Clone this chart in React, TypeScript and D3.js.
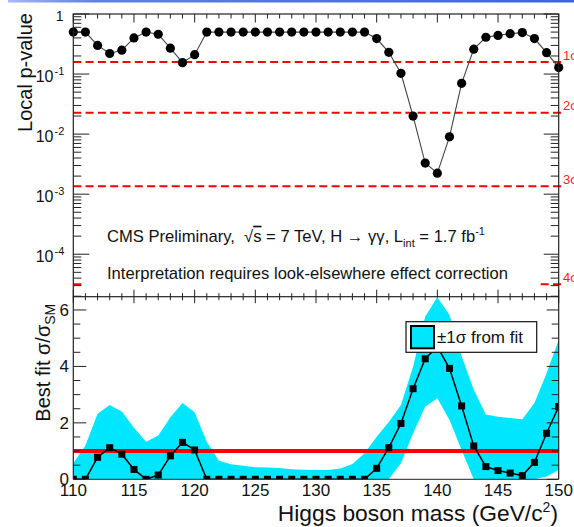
import React from "react";
import * as d3 from "d3";

// ---- data ----
const masses = [110,111,112,113,114,115,116,117,118,119,120,121,122,123,124,125,126,127,128,129,130,131,132,133,134,135,136,137,138,139,140,141,142,143,144,145,146,147,148,149,150];
const pValues = [0.5,0.5,0.30,0.22,0.25,0.40,0.5,0.46,0.27,0.155,0.21,0.5,0.5,0.5,0.5,0.5,0.5,0.5,0.5,0.5,0.5,0.5,0.5,0.5,0.5,0.39,0.23,0.103,0.020,0.0033,0.00224,0.0090,0.070,0.26,0.41,0.44,0.47,0.49,0.39,0.227,0.128];
const bestFit = [0,0,0.78,1.12,0.89,0.35,0,0.15,0.83,1.31,1.04,0,0,0,0,0,0,0,0,0,0,0,0,0,0,0.39,1.12,1.98,3.21,4.27,4.7,3.93,2.60,1.18,0.45,0.31,0.22,0.13,0.60,1.63,2.58];
const bandUpper = [0.57,1.2,2.32,2.63,2.40,1.83,1.33,1.55,2.20,2.70,2.38,1.33,0.66,0.53,0.48,0.43,0.42,0.40,0.36,0.34,0.33,0.33,0.38,0.54,0.92,1.51,2.03,2.63,3.99,5.77,6.45,5.83,4.37,3.17,2.30,2.22,2.17,2.13,2.70,3.76,4.94];
const bandLower = [0,0,0,0,0,0,0,0,0,0,0,0,0,0,0,0,0,0,0,0,0,0,0,0,0,0,0,0.57,1.63,2.57,2.87,2.10,1.04,0,0,0,0,0,0,0.1,0.33];
const sigmaP = [0.1587, 0.02275, 0.00135, 3.17e-5];
const sigmaLabels = ["1σ", "2σ", "3σ", "4σ"];
const xTickValues = [110,115,120,125,130,135,140,145,150];
const xTickLabels = ["110","115","120","125","130","135","140","145","150"];
const pDecades = [1, 0.1, 0.01, 0.001, 0.0001];
const pDecadeExps = ["", "-1", "-2", "-3", "-4"];
const fitTickValues = [0, 2, 4, 6];
const fitTickLabels = ["0", "2", "4", "6"];

const FONT = "'Liberation Sans', Arial, Helvetica, sans-serif";
const CYAN = "#00e6ff";

export default function App() {
  const L = 73.3, R = 558.7, T = 14, MID = 296.7, B = 479.3;
  const x = d3.scaleLinear().domain([110, 150]).range([L, R]);
  const yP = d3.scaleLog().domain([1.963e-5, 1]).range([MID, T]);
  const yF = d3.scaleLinear().domain([0, 6.47]).range([B, MID]);

  const pts = masses.map((m, i) => ({ m, p: pValues[i], f: bestFit[i], lo: bandLower[i], hi: bandUpper[i] }));
  const pLine = d3.line<any>().x(d => x(d.m)).y(d => yP(d.p))(pts) || "";
  const fLine = d3.line<any>().x(d => x(d.m)).y(d => yF(d.f))(pts) || "";
  const band = d3.area<any>().x(d => x(d.m)).y0(d => yF(d.lo)).y1(d => yF(d.hi))(pts) || "";

  const xMinor = d3.range(110, 151, 1);
  const pMinor: number[] = [];
  for (let e = -5; e < 0; e++) for (let k = 2; k <= 9; k++) { const v = k * Math.pow(10, e); if (v > 1.963e-5 && v < 1) pMinor.push(v); }
  const fMinor = d3.range(0, 6.5, 0.5);
  const tc = "#222";

  return (
    <svg width={574} height={527} style={{ position: "absolute", left: 0, top: 0, background: "#fff" }} fontFamily={FONT}>
      <defs>
        <linearGradient id="topbar" x1="0" x2="1" y1="0" y2="0">
          <stop offset="0" stopColor="#a9b8f2" />
          <stop offset="0.15" stopColor="#5f80e6" />
          <stop offset="1" stopColor="#3f63df" />
        </linearGradient>
        <clipPath id="botclip"><rect x={L} y={MID} width={R - L} height={B - MID} /></clipPath>
      </defs>
      <rect x={8} y={0} width={566} height={2.5} fill="url(#topbar)" />

      {/* ---- top panel ---- */}
      {sigmaP.map((p, i) => (
        <line key={"s" + i} x1={L} x2={565} y1={yP(p)} y2={yP(p)} stroke="#ff0000" strokeWidth={2} strokeDasharray="8,4.3" />
      ))}
      {sigmaP.map((p, i) => (
        <text key={"sl" + i} x={563} y={yP(p) - 2.5} fill="#ff2020" fontSize={13}>{sigmaLabels[i]}</text>
      ))}
      <path d={pLine} fill="none" stroke="#444" strokeWidth={1.1} />
      {pts.map((d, i) => <circle key={"c" + i} cx={x(d.m)} cy={yP(d.p)} r={4.6} fill="#000" />)}

      <rect x={84} y={218} width={456} height={74} fill="#fff" />
      <text x={107} y={241.7} fontSize={16.6} fill="#111">
        CMS Preliminary,{"\u00a0\u00a0"}√<tspan textDecoration="overline">s</tspan> = 7 TeV, H → γγ, L<tspan fontSize={11} dy={5}>int</tspan><tspan dy={-5}> = 1.7 fb</tspan><tspan fontSize={11} dy={-7}>-1</tspan>
      </text>
      <text x={107} y={279} fontSize={16.6} fill="#111">Interpretation requires look-elsewhere effect correction</text>

      {/* top frame & ticks */}
      <rect x={L} y={T} width={R - L} height={MID - T} fill="none" stroke={tc} strokeWidth={1.2} />
      {xMinor.map(v => {
        const major = xTickValues.includes(v);
        return (
          <g key={"xt" + v} stroke={tc} strokeWidth={1}>
            <line x1={x(v)} x2={x(v)} y1={T} y2={T + (major ? 8.5 : 4.5)} />
            <line x1={x(v)} x2={x(v)} y1={MID} y2={MID - (major ? 7 : 3.5)} />
            <line x1={x(v)} x2={x(v)} y1={MID} y2={MID + (major ? 6.5 : 3.5)} />
          </g>
        );
      })}
      {pDecades.map(v => (
        <g key={"pd" + v} stroke={tc} strokeWidth={1}>
          <line x1={L} x2={L + 16} y1={yP(v)} y2={yP(v)} />
          <line x1={R} x2={R - 15} y1={yP(v)} y2={yP(v)} />
        </g>
      ))}
      {pMinor.map((v, i) => (
        <g key={"pm" + i} stroke={tc} strokeWidth={1}>
          <line x1={L} x2={L + 8} y1={yP(v)} y2={yP(v)} />
          <line x1={R} x2={R - 8} y1={yP(v)} y2={yP(v)} />
        </g>
      ))}
      {pDecades.map((v, i) => i === 0 ? (
        <text key={"pl" + i} x={63.5} y={yP(v) + 7} fontSize={14} textAnchor="end" fill="#111">1</text>
      ) : (
        <g key={"pl" + i} fill="#111">
          <text x={53.5} y={yP(v) + 7.7} fontSize={16} textAnchor="end">10</text>
          <text x={54.5} y={yP(v) + 1} fontSize={11}>{pDecadeExps[i]}</text>
        </g>
      ))}
      <text transform={`translate(32,13) rotate(-90)`} textAnchor="end" fontSize={20} fill="#111">Local p-value</text>

      {/* ---- bottom panel ---- */}
      <g clipPath="url(#botclip)">
        <path d={band} fill={CYAN} stroke="none" />
        <line x1={L} x2={R} y1={yF(1)} y2={yF(1)} stroke="#ff0000" strokeWidth={4} />
        <path d={fLine} fill="none" stroke="#000" strokeWidth={1.5} />
        {pts.map((d, i) => <rect key={"q" + i} x={x(d.m) - 3.5} y={yF(d.f) - 3.5} width={7} height={7} fill="#000" />)}
      </g>
      <line x1={L} x2={L} y1={MID} y2={B} stroke={tc} strokeWidth={1.2} />
      <line x1={R} x2={R} y1={MID} y2={B} stroke={tc} strokeWidth={1.2} />
      <line x1={L} x2={R} y1={B} y2={B} stroke={tc} strokeWidth={1} />
      {fMinor.map(v => {
        const major = fitTickValues.includes(v);
        return (
          <g key={"ft" + v} stroke={tc} strokeWidth={1}>
            <line x1={L} x2={L + (major ? 13 : 7)} y1={yF(v)} y2={yF(v)} />
            <line x1={R} x2={R - (major ? 12 : 7)} y1={yF(v)} y2={yF(v)} />
          </g>
        );
      })}
      {fitTickValues.map((v, i) => (
        <text key={"fl" + i} x={69} y={yF(v) + 6} fontSize={17} textAnchor="end" fill="#111">{fitTickLabels[i]}</text>
      ))}
      {xTickValues.map((v, i) => (
        <text key={"xl" + i} x={x(v)} y={496} fontSize={17} textAnchor="middle" fill="#111">{xTickLabels[i]}</text>
      ))}
      <text x={558} y={521} fontSize={22.8} textAnchor="end" fill="#111">
        Higgs boson mass (GeV/c<tspan fontSize={14} dy={-9}>2</tspan><tspan dy={9}>)</tspan>
      </text>
      <text transform={`translate(50,421.7) rotate(-90)`} fontSize={20} fill="#111">
        Best fit σ/σ<tspan fontSize={14} dy={5}>SM</tspan>
      </text>

      {/* legend */}
      <rect x={406} y={321.7} width={130.7} height={30.6} fill="#fff" stroke="#111" strokeWidth={1.2} />
      <rect x={411} y={326} width={23} height={22.3} fill={CYAN} stroke="#000" strokeWidth={2} />
      <text x={437} y={343} fontSize={17} fill="#111">±1σ from fit</text>
    </svg>
  );
}
